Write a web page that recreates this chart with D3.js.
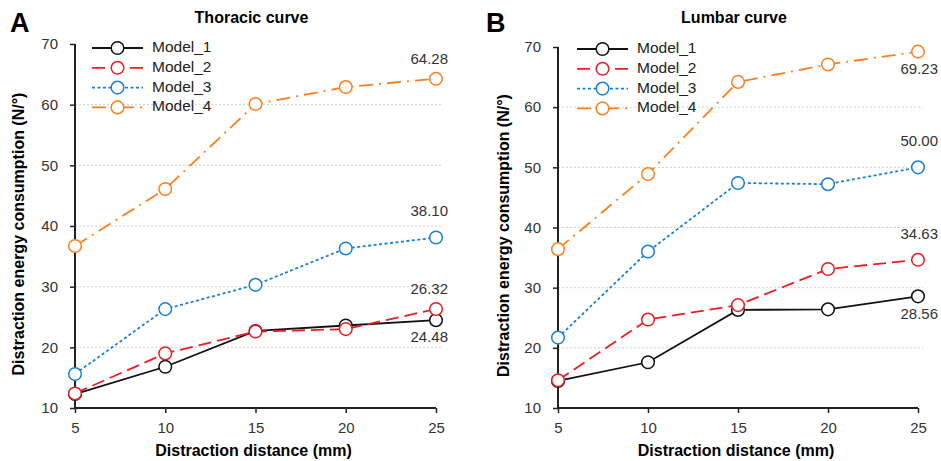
<!DOCTYPE html>
<html>
<head>
<meta charset="utf-8">
<script src="https://cdn.jsdelivr.net/npm/d3@7"></script>
<style>
  body { margin: 0; background: #fff; }
  svg { display: block; font-family: "Liberation Sans", Arial, sans-serif; }
</style>
</head>
<body>
<div id="chart"></div>
<script>
var width = 941, height = 461;

// x categories (mm)
var distances = [5, 10, 15, 20, 25];
var yTicks = [10, 20, 30, 40, 50, 60, 70];
var gridTicks = [20, 30, 40, 50, 60];
var modelNames = ["Model_1", "Model_2", "Model_3", "Model_4"];

// Thoracic curve
var thoracic_m1 = [12.3, 16.8, 22.7, 23.6, 24.48];
var thoracic_m2 = [12.4, 19.0, 22.6, 23.0, 26.32];
var thoracic_m3 = [15.6, 26.3, 30.3, 36.3, 38.10];
var thoracic_m4 = [36.7, 46.1, 60.1, 62.9, 64.28];

// Lumbar curve
var lumbar_m1 = [14.5, 17.6, 26.3, 26.4, 28.56];
var lumbar_m2 = [14.6, 24.7, 27.1, 33.1, 34.63];
var lumbar_m3 = [21.7, 36.0, 47.4, 47.2, 50.00];
var lumbar_m4 = [36.4, 48.9, 64.2, 67.1, 69.23];

var svg = d3.select("#chart").append("svg")
    .attr("width", width)
    .attr("height", height);

// line looks per model
var styles = [
  {color: "#111111", dash: null},
  {color: "#ee1c24", dash: "13,6"},
  {color: "#1a7fd6", dash: "3,2.5"},
  {color: "#ff7f1f", dash: "14,6,2,6"}
];

function drawPanel(opt) {
  var g = svg.append("g");
  var x = d3.scaleLinear().domain([5, 25]).range([opt.left, opt.right]);
  var y = d3.scaleLinear().domain([10, 70]).range([opt.bottom, opt.top]);

  // gridlines
  g.selectAll(".grid").data(gridTicks).enter().append("line")
    .attr("x1", opt.left).attr("x2", opt.right + 5)
    .attr("y1", function(d) { return y(d); })
    .attr("y2", function(d) { return y(d); })
    .attr("stroke", "#cfcfcf")
    .attr("stroke-width", 1)
    .attr("stroke-dasharray", "2,2");

  // y axis
  var yAxis = d3.axisLeft(y).tickValues(yTicks).tickSize(5).tickPadding(12);
  var ya = g.append("g").attr("transform", "translate(" + opt.left + ",0)").call(yAxis);
  // x axis
  var xAxis = d3.axisBottom(x).tickValues(distances).tickSize(5).tickPadding(9);
  var xa = g.append("g").attr("transform", "translate(0," + opt.bottom + ")").call(xAxis);

  [ya, xa].forEach(function(a) {
    a.select(".domain").attr("stroke", "#222").attr("stroke-width", 2)
      .attr("d", a === ya ? "M0," + opt.top + "V" + opt.bottom
                          : "M" + opt.left + ",0H" + opt.right);
    a.selectAll(".tick line").attr("stroke", "#222").attr("stroke-width", 1.5);
    a.selectAll(".tick text").attr("fill", "#333").style("font-size", "15px")
      .style("font-family", "Liberation Sans, Arial, sans-serif");
  });

  // series
  var line = d3.line()
    .x(function(d, i) { return x(distances[i]); })
    .y(function(d) { return y(d); });

  opt.series.forEach(function(vals, k) {
    var st = styles[k];
    g.append("path")
      .attr("d", line(vals))
      .attr("fill", "none")
      .attr("stroke", st.color)
      .attr("stroke-width", 1.8)
      .attr("stroke-dasharray", st.dash);
  });
  opt.series.forEach(function(vals, k) {
    var st = styles[k];
    g.selectAll(".pt" + k).data(vals).enter().append("circle")
      .attr("cx", function(d, i) { return x(distances[i]); })
      .attr("cy", function(d) { return y(d); })
      .attr("r", 6.3)
      .attr("fill", "#fff")
      .attr("stroke", st.color)
      .attr("stroke-width", 1.5);
  });

  // end value labels
  opt.series.forEach(function(vals, k) {
    var v = vals[vals.length - 1];
    g.append("text")
      .attr("x", x(25) + opt.labelShift)
      .attr("y", y(v) + opt.labelDy[k])
      .attr("text-anchor", "end")
      .attr("dominant-baseline", "middle")
      .attr("fill", "#333")
      .style("font-size", "15px")
      .text(v.toFixed(2));
  });

  // legend
  modelNames.forEach(function(name, k) {
    var st = styles[k];
    var ly = opt.legendY + k * 19.8;
    g.append("line")
      .attr("x1", opt.legendX).attr("x2", opt.legendX + 51)
      .attr("y1", ly).attr("y2", ly)
      .attr("stroke", st.color).attr("stroke-width", 1.8)
      .attr("stroke-dasharray", st.dash);
    g.append("circle")
      .attr("cx", opt.legendX + 25.5).attr("cy", ly).attr("r", 6.3)
      .attr("fill", "#fff").attr("stroke", st.color).attr("stroke-width", 1.5);
    g.append("text")
      .attr("x", opt.legendX + 60).attr("y", ly)
      .attr("dominant-baseline", "middle")
      .attr("fill", "#222")
      .style("font-size", "15.5px")
      .text(name);
  });

  // titles
  g.append("text")
    .attr("x", (opt.left + opt.right) / 2 - 4).attr("y", 23)
    .attr("text-anchor", "middle")
    .style("font-weight", "bold").style("font-size", "16px")
    .text(opt.title);
  g.append("text")
    .attr("x", opt.letterX).attr("y", 32)
    .style("font-weight", "bold").style("font-size", "27px")
    .text(opt.letter);
  g.append("text")
    .attr("x", (opt.left + opt.right) / 2 - 2).attr("y", 456)
    .attr("text-anchor", "middle")
    .style("font-weight", "bold").style("font-size", "16px")
    .text("Distraction distance (mm)");
  g.append("text")
    .attr("transform", "translate(" + opt.yTitleX + "," + ((opt.top + opt.bottom) / 2 + 8) + ") rotate(-90)")
    .attr("text-anchor", "middle")
    .style("font-weight", "bold").style("font-size", "16px")
    .text("Distraction energy consumption (N/°)");
}

drawPanel({
  left: 75, right: 436, top: 44, bottom: 408,
  series: [thoracic_m1, thoracic_m2, thoracic_m3, thoracic_m4],
  labelDy: [18, -19, -25, -19],
  labelShift: 12,
  legendX: 92, legendY: 48,
  title: "Thoracic curve", letter: "A", letterX: 10, yTitleX: 24
});

drawPanel({
  left: 558, right: 918, top: 47, bottom: 408,
  series: [lumbar_m1, lumbar_m2, lumbar_m3, lumbar_m4],
  labelDy: [19, -25, -25, 18],
  labelShift: 20,
  legendX: 577, legendY: 49,
  title: "Lumbar curve", letter: "B", letterX: 486, yTitleX: 509
});
</script>
</body>
</html>
